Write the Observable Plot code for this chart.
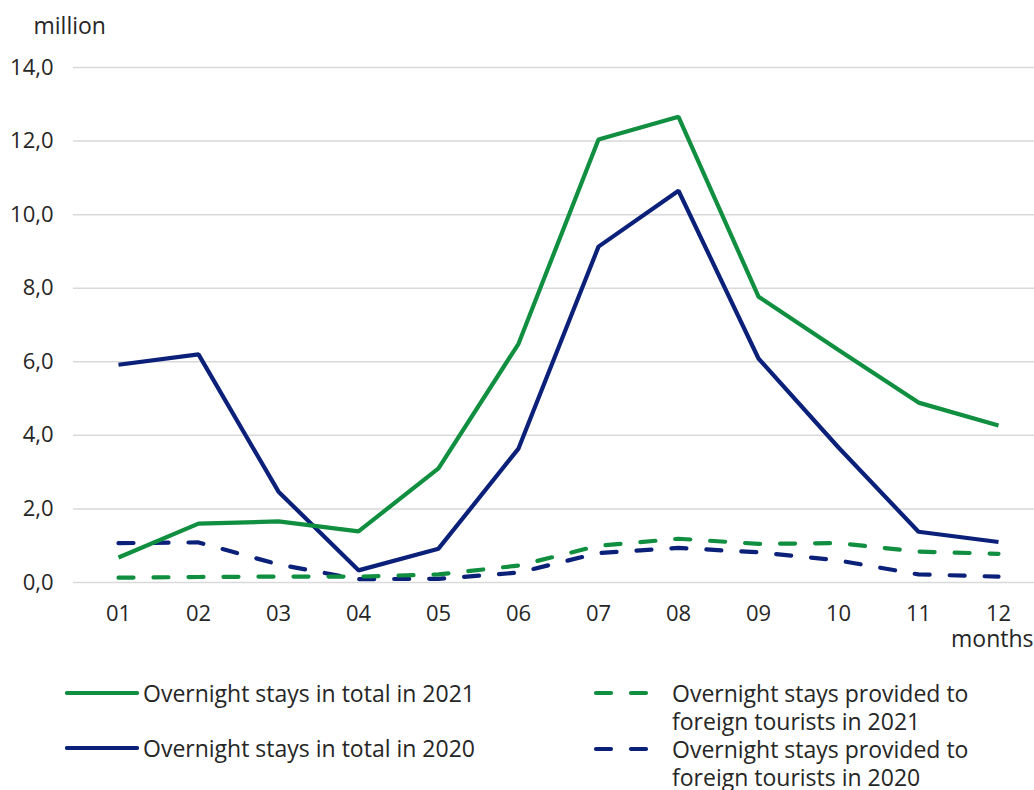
<!DOCTYPE html>
<html>
<head>
<meta charset="utf-8">
<script src="https://cdn.jsdelivr.net/npm/d3@7"></script>
<script src="https://cdn.jsdelivr.net/npm/@observablehq/plot@0.6"></script>
<style>
  html, body { margin: 0; padding: 0; background: #fff; }
  body { width: 1034px; height: 790px; overflow: hidden; position: relative; font-family: "Open Sans", sans-serif; color: #262626; }
  #chart { position: absolute; left: 0; top: 0; }
  .leg { position: absolute; font-size: 23px; line-height: 28px; color: #262626; white-space: nowrap; }
  .sw { position: absolute; }
</style>
</head>
<body>
<div id="chart"></div>
<div id="legend"></div>
<script>
const months = ["01","02","03","04","05","06","07","08","09","10","11","12"];
const total2021   = [0.68, 1.60, 1.66, 1.39, 3.10, 6.49, 12.04, 12.66, 7.77, 6.32, 4.89, 4.27];
const total2020   = [5.92, 6.20, 2.47, 0.33, 0.92, 3.64, 9.13, 10.65, 6.09, 3.67, 1.38, 1.10];
const foreign2021 = [0.13, 0.15, 0.16, 0.16, 0.22, 0.46, 1.00, 1.19, 1.05, 1.07, 0.84, 0.78];
const foreign2020 = [1.07, 1.09, 0.49, 0.09, 0.10, 0.27, 0.80, 0.94, 0.82, 0.60, 0.22, 0.16];
const yTicks = [0, 2, 4, 6, 8, 10, 12, 14];
const seriesNames = [
  "Overnight stays in total in 2021",
  "Overnight stays in total in 2020",
  "Overnight stays provided to\nforeign tourists in 2021",
  "Overnight stays provided to\nforeign tourists in 2020"
];
const GREEN = "#0f8f3f", NAVY = "#0b2079";
const DASH = "15,20";

const seriesDefs = [
  {name: seriesNames[0], values: total2021, color: GREEN, dash: null},
  {name: seriesNames[1], values: total2020, color: NAVY, dash: null},
  {name: seriesNames[2], values: foreign2021, color: GREEN, dash: DASH},
  {name: seriesNames[3], values: foreign2020, color: NAVY, dash: DASH}
];
const drawOrder = [3, 2, 1, 0];

const fmt = d => d.toFixed(1).replace(".", ",");

const marks = [
  Plot.ruleY(yTicks, {stroke: "#d9d9d9", strokeWidth: 1.5}),
  Plot.axisY({ticks: yTicks, tickSize: 0, tickPadding: 20, tickFormat: fmt, label: null, fontSize: 22}),
  Plot.axisX({tickSize: 0, tickPadding: 23, label: null, fontSize: 22}),
  Plot.text(["million"], {frameAnchor: "top-left", textAnchor: "start", dx: -40, dy: -41, fontSize: 23, fill: "#262626", lineAnchor: "middle"}),
  Plot.text(["months"], {frameAnchor: "bottom-right", textAnchor: "end", dx: -1, dy: 57, fontSize: 23, fill: "#262626", lineAnchor: "middle"})
];
for (const i of drawOrder) {
  const s = seriesDefs[i];
  const data = months.map((m, j) => ({m, v: s.values[j]}));
  marks.push(Plot.line(data, {x: "m", y: "v", stroke: s.color, strokeWidth: 4.2,
    strokeDasharray: s.dash || undefined, strokeLinecap: s.dash ? "round" : "butt", strokeLinejoin: "miter"}));
}

const chart = Plot.plot({
  width: 1034,
  height: 660,
  marginLeft: 73,
  marginRight: 0,
  marginTop: 67,
  marginBottom: 78,
  style: {fontFamily: "Open Sans", fontSize: "22px", color: "#262626", background: "#fff"},
  x: {type: "point", domain: months, range: [75, 1040], padding: 0.5},
  y: {domain: [0, 14]},
  marks
});
document.getElementById("chart").appendChild(chart);

const legend = document.getElementById("legend");
const legPos = [
  {sx: 67, sw: 70, tx: 143, y: 693},
  {sx: 67, sw: 70, tx: 143, y: 748},
  {sx: 594, sw: 56, tx: 672, y: 693},
  {sx: 594, sw: 56, tx: 672, y: 749}
];
seriesDefs.forEach((s, i) => {
  const p = legPos[i];
  const ns = "http://www.w3.org/2000/svg";
  const svg = document.createElementNS(ns, "svg");
  svg.setAttribute("width", p.sw + 4);
  svg.setAttribute("height", 10);
  svg.setAttribute("class", "sw");
  svg.style.left = (p.sx - 2) + "px";
  svg.style.top = (p.y - 5) + "px";
  const ln = document.createElementNS(ns, "line");
  ln.setAttribute("x1", 2);
  ln.setAttribute("x2", p.sw + 2);
  ln.setAttribute("y1", 5); ln.setAttribute("y2", 5);
  ln.setAttribute("stroke", s.color);
  ln.setAttribute("stroke-width", 4.2);
  ln.setAttribute("stroke-linecap", "round");
  if (s.dash) { ln.setAttribute("stroke-dasharray", DASH); ln.setAttribute("x1", 4); }
  svg.appendChild(ln);
  legend.appendChild(svg);
  s.name.split("\n").forEach((t, k) => {
    const div = document.createElement("div");
    div.className = "leg";
    div.textContent = t;
    div.style.left = p.tx + "px";
    div.style.top = (p.y - 14 + k * 28) + "px";
    legend.appendChild(div);
  });
});
</script>
</body>
</html>
